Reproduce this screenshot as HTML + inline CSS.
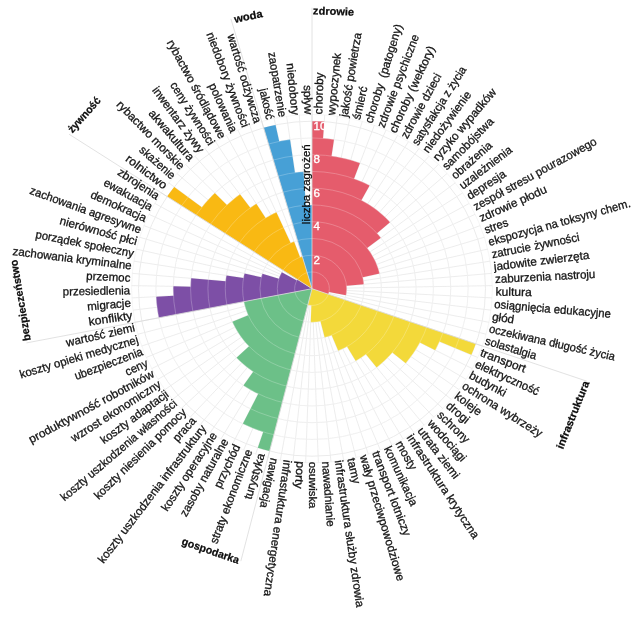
<!DOCTYPE html>
<html lang="pl"><head><meta charset="utf-8"><title>wykres</title>
<style>
html,body{margin:0;padding:0;background:#fff;}
body{width:640px;height:618px;position:relative;overflow:hidden;font-family:"Liberation Sans",sans-serif;}
</style></head><body>
<svg width="640" height="618" viewBox="0 0 640 618" style="position:absolute;left:0;top:0;font-family:'Liberation Sans',sans-serif;filter:blur(0.4px)">
<rect x="0" y="0" width="640" height="618" fill="#ffffff"/>
<g stroke="#eaeaea" opacity="0.95"><ellipse cx="312" cy="288.7" rx="17.35" ry="16.75" fill="none" stroke-width="0.9"/>
<ellipse cx="312" cy="288.7" rx="34.69" ry="33.5" fill="none" stroke-width="1.0"/>
<ellipse cx="312" cy="288.7" rx="52.04" ry="50.25" fill="none" stroke-width="0.9"/>
<ellipse cx="312" cy="288.7" rx="69.39" ry="67" fill="none" stroke-width="1.0"/>
<ellipse cx="312" cy="288.7" rx="86.73" ry="83.75" fill="none" stroke-width="0.9"/>
<ellipse cx="312" cy="288.7" rx="104.08" ry="100.5" fill="none" stroke-width="1.0"/>
<ellipse cx="312" cy="288.7" rx="121.42" ry="117.25" fill="none" stroke-width="0.9"/>
<ellipse cx="312" cy="288.7" rx="138.77" ry="134" fill="none" stroke-width="1.0"/>
<ellipse cx="312" cy="288.7" rx="156.12" ry="150.75" fill="none" stroke-width="0.9"/>
<ellipse cx="312" cy="288.7" rx="173.46" ry="167.5" fill="none" stroke-width="1.0"/>
<ellipse cx="312" cy="288.7" rx="180.4" ry="174.2" fill="none" stroke-width="0.5"/>
<line x1="312" y1="288.7" x2="312" y2="114.5" stroke-width="0.9"/>
<line x1="312" y1="288.7" x2="324.73" y2="114.93" stroke-width="0.9"/>
<line x1="312" y1="288.7" x2="337.39" y2="116.23" stroke-width="0.9"/>
<line x1="312" y1="288.7" x2="349.92" y2="118.39" stroke-width="0.9"/>
<line x1="312" y1="288.7" x2="362.27" y2="121.4" stroke-width="0.9"/>
<line x1="312" y1="288.7" x2="374.37" y2="125.24" stroke-width="0.9"/>
<line x1="312" y1="288.7" x2="386.15" y2="129.9" stroke-width="0.9"/>
<line x1="312" y1="288.7" x2="397.57" y2="135.34" stroke-width="0.9"/>
<line x1="312" y1="288.7" x2="408.56" y2="141.55" stroke-width="0.9"/>
<line x1="312" y1="288.7" x2="419.06" y2="148.5" stroke-width="0.9"/>
<line x1="312" y1="288.7" x2="429.04" y2="156.14" stroke-width="0.9"/>
<line x1="312" y1="288.7" x2="438.43" y2="164.44" stroke-width="0.9"/>
<line x1="312" y1="288.7" x2="447.19" y2="173.36" stroke-width="0.9"/>
<line x1="312" y1="288.7" x2="455.28" y2="182.86" stroke-width="0.9"/>
<line x1="312" y1="288.7" x2="462.66" y2="192.88" stroke-width="0.9"/>
<line x1="312" y1="288.7" x2="469.28" y2="203.38" stroke-width="0.9"/>
<line x1="312" y1="288.7" x2="475.12" y2="214.31" stroke-width="0.9"/>
<line x1="312" y1="288.7" x2="480.15" y2="225.6" stroke-width="0.9"/>
<line x1="312" y1="288.7" x2="484.34" y2="237.21" stroke-width="0.9"/>
<line x1="312" y1="288.7" x2="487.67" y2="249.08" stroke-width="0.9"/>
<line x1="312" y1="288.7" x2="490.13" y2="261.15" stroke-width="0.9"/>
<line x1="312" y1="288.7" x2="491.7" y2="273.35" stroke-width="0.9"/>
<line x1="312" y1="288.7" x2="492.37" y2="285.63" stroke-width="0.9"/>
<line x1="312" y1="288.7" x2="492.15" y2="297.92" stroke-width="0.9"/>
<line x1="312" y1="288.7" x2="491.03" y2="310.17" stroke-width="0.9"/>
<line x1="312" y1="288.7" x2="489.01" y2="322.31" stroke-width="0.9"/>
<line x1="312" y1="288.7" x2="486.12" y2="334.28" stroke-width="0.9"/>
<line x1="312" y1="288.7" x2="482.35" y2="346.03" stroke-width="0.9"/>
<line x1="312" y1="288.7" x2="477.74" y2="357.49" stroke-width="0.9"/>
<line x1="312" y1="288.7" x2="472.3" y2="368.61" stroke-width="0.9"/>
<line x1="312" y1="288.7" x2="466.07" y2="379.33" stroke-width="0.9"/>
<line x1="312" y1="288.7" x2="459.06" y2="389.59" stroke-width="0.9"/>
<line x1="312" y1="288.7" x2="451.33" y2="399.36" stroke-width="0.9"/>
<line x1="312" y1="288.7" x2="442.89" y2="408.57" stroke-width="0.9"/>
<line x1="312" y1="288.7" x2="433.81" y2="417.19" stroke-width="0.9"/>
<line x1="312" y1="288.7" x2="424.12" y2="425.17" stroke-width="0.9"/>
<line x1="312" y1="288.7" x2="413.87" y2="432.47" stroke-width="0.9"/>
<line x1="312" y1="288.7" x2="403.12" y2="439.05" stroke-width="0.9"/>
<line x1="312" y1="288.7" x2="391.91" y2="444.88" stroke-width="0.9"/>
<line x1="312" y1="288.7" x2="380.3" y2="449.93" stroke-width="0.9"/>
<line x1="312" y1="288.7" x2="368.35" y2="454.18" stroke-width="0.9"/>
<line x1="312" y1="288.7" x2="356.12" y2="457.61" stroke-width="0.9"/>
<line x1="312" y1="288.7" x2="343.67" y2="460.19" stroke-width="0.9"/>
<line x1="312" y1="288.7" x2="331.07" y2="461.92" stroke-width="0.9"/>
<line x1="312" y1="288.7" x2="318.37" y2="462.79" stroke-width="0.9"/>
<line x1="312" y1="288.7" x2="305.63" y2="462.79" stroke-width="0.9"/>
<line x1="312" y1="288.7" x2="292.93" y2="461.92" stroke-width="0.9"/>
<line x1="312" y1="288.7" x2="280.33" y2="460.19" stroke-width="0.9"/>
<line x1="312" y1="288.7" x2="267.88" y2="457.61" stroke-width="0.9"/>
<line x1="312" y1="288.7" x2="255.65" y2="454.18" stroke-width="0.9"/>
<line x1="312" y1="288.7" x2="243.7" y2="449.93" stroke-width="0.9"/>
<line x1="312" y1="288.7" x2="232.09" y2="444.88" stroke-width="0.9"/>
<line x1="312" y1="288.7" x2="220.88" y2="439.05" stroke-width="0.9"/>
<line x1="312" y1="288.7" x2="210.13" y2="432.47" stroke-width="0.9"/>
<line x1="312" y1="288.7" x2="199.88" y2="425.17" stroke-width="0.9"/>
<line x1="312" y1="288.7" x2="190.19" y2="417.19" stroke-width="0.9"/>
<line x1="312" y1="288.7" x2="181.11" y2="408.57" stroke-width="0.9"/>
<line x1="312" y1="288.7" x2="172.67" y2="399.36" stroke-width="0.9"/>
<line x1="312" y1="288.7" x2="164.94" y2="389.59" stroke-width="0.9"/>
<line x1="312" y1="288.7" x2="157.93" y2="379.33" stroke-width="0.9"/>
<line x1="312" y1="288.7" x2="151.7" y2="368.61" stroke-width="0.9"/>
<line x1="312" y1="288.7" x2="146.26" y2="357.49" stroke-width="0.9"/>
<line x1="312" y1="288.7" x2="141.65" y2="346.03" stroke-width="0.9"/>
<line x1="312" y1="288.7" x2="137.88" y2="334.28" stroke-width="0.9"/>
<line x1="312" y1="288.7" x2="134.99" y2="322.31" stroke-width="0.9"/>
<line x1="312" y1="288.7" x2="132.97" y2="310.17" stroke-width="0.9"/>
<line x1="312" y1="288.7" x2="131.85" y2="297.92" stroke-width="0.9"/>
<line x1="312" y1="288.7" x2="131.63" y2="285.63" stroke-width="0.9"/>
<line x1="312" y1="288.7" x2="132.3" y2="273.35" stroke-width="0.9"/>
<line x1="312" y1="288.7" x2="133.87" y2="261.15" stroke-width="0.9"/>
<line x1="312" y1="288.7" x2="136.33" y2="249.08" stroke-width="0.9"/>
<line x1="312" y1="288.7" x2="139.66" y2="237.21" stroke-width="0.9"/>
<line x1="312" y1="288.7" x2="143.85" y2="225.6" stroke-width="0.9"/>
<line x1="312" y1="288.7" x2="148.88" y2="214.31" stroke-width="0.9"/>
<line x1="312" y1="288.7" x2="154.72" y2="203.38" stroke-width="0.9"/>
<line x1="312" y1="288.7" x2="161.34" y2="192.88" stroke-width="0.9"/>
<line x1="312" y1="288.7" x2="168.72" y2="182.86" stroke-width="0.9"/>
<line x1="312" y1="288.7" x2="176.81" y2="173.36" stroke-width="0.9"/>
<line x1="312" y1="288.7" x2="185.57" y2="164.44" stroke-width="0.9"/>
<line x1="312" y1="288.7" x2="194.96" y2="156.14" stroke-width="0.9"/>
<line x1="312" y1="288.7" x2="204.94" y2="148.5" stroke-width="0.9"/>
<line x1="312" y1="288.7" x2="215.44" y2="141.55" stroke-width="0.9"/>
<line x1="312" y1="288.7" x2="226.43" y2="135.34" stroke-width="0.9"/>
<line x1="312" y1="288.7" x2="237.85" y2="129.9" stroke-width="0.9"/>
<line x1="312" y1="288.7" x2="249.63" y2="125.24" stroke-width="0.9"/>
<line x1="312" y1="288.7" x2="261.73" y2="121.4" stroke-width="0.9"/>
<line x1="312" y1="288.7" x2="274.08" y2="118.39" stroke-width="0.9"/>
<line x1="312" y1="288.7" x2="286.61" y2="116.23" stroke-width="0.9"/>
<line x1="312" y1="288.7" x2="299.27" y2="114.93" stroke-width="0.9"/></g>
<g><path d="M312,288.7 L312,121.2 A173.46,167.5 0 0 1 324.24,121.62 L323.01,138.33 A156.12,150.75 0 0 1 333.97,139.45 L331.53,156.03 A138.77,134 0 0 1 341.17,157.69 L341.17,157.69 A138.77,134 0 0 1 350.67,160.01 L350.67,160.01 A138.77,134 0 0 1 359.97,162.96 L353.98,178.68 A121.42,117.25 0 0 1 361.91,181.81 L361.91,181.81 A121.42,117.25 0 0 1 369.59,185.48 L361.37,200.22 A104.08,100.5 0 0 1 367.71,203.81 L367.71,203.81 A104.08,100.5 0 0 1 373.77,207.81 L373.77,207.81 A104.08,100.5 0 0 1 379.52,212.22 L379.52,212.22 A104.08,100.5 0 0 1 384.94,217.01 L384.94,217.01 A104.08,100.5 0 0 1 390,222.16 L377,233.25 A86.73,83.75 0 0 1 380.89,237.81 L367.11,247.99 A69.39,67 0 0 1 369.95,251.85 L369.95,251.85 A69.39,67 0 0 1 372.49,255.89 L372.49,255.89 A69.39,67 0 0 1 374.74,260.09 L374.74,260.09 A69.39,67 0 0 1 376.67,264.43 L376.67,264.43 A69.39,67 0 0 1 378.29,268.9 L378.29,268.9 A69.39,67 0 0 1 379.57,273.46 L362.68,277.27 A52.04,50.25 0 0 1 363.38,280.75 L363.38,280.75 A52.04,50.25 0 0 1 363.84,284.27 L346.56,285.75 A34.69,33.5 0 0 1 346.69,288.11 L346.69,288.11 A34.69,33.5 0 0 1 346.64,290.47 L346.64,290.47 A34.69,33.5 0 0 1 346.43,292.83 L346.43,292.83 A34.69,33.5 0 0 1 346.04,295.16 L329.02,291.93 A17.35,16.75 0 0 1 328.74,293.08 L328.74,293.08 A17.35,16.75 0 0 1 328.38,294.21 Z" fill="#e55c6c"/>
<path d="M312,288.7 L475.8,343.82 A173.46,167.5 0 0 1 471.37,354.84 L439.49,341.61 A138.77,134 0 0 1 435.31,350.17 L419.9,342.48 A121.42,117.25 0 0 1 415.7,349.7 L415.7,349.7 A121.42,117.25 0 0 1 410.98,356.61 L410.98,356.61 A121.42,117.25 0 0 1 405.78,363.18 L392.38,352.54 A104.08,100.5 0 0 1 387.52,357.86 L387.52,357.86 A104.08,100.5 0 0 1 382.28,362.83 L382.28,362.83 A104.08,100.5 0 0 1 376.69,367.43 L365.9,354.31 A86.73,83.75 0 0 1 360.98,357.82 L360.98,357.82 A86.73,83.75 0 0 1 355.81,360.98 L347.05,346.53 A69.39,67 0 0 1 342.73,348.77 L342.73,348.77 A69.39,67 0 0 1 338.27,350.71 L331.7,335.21 A52.04,50.25 0 0 1 328.26,336.44 L328.26,336.44 A52.04,50.25 0 0 1 324.73,337.42 L320.49,321.18 A34.69,33.5 0 0 1 318.09,321.68 L318.09,321.68 A34.69,33.5 0 0 1 315.67,322.01 L315.67,322.01 A34.69,33.5 0 0 1 313.22,322.18 L313.22,322.18 A34.69,33.5 0 0 1 310.78,322.18 L311.39,305.44 A17.35,16.75 0 0 1 310.17,305.36 L310.17,305.36 A17.35,16.75 0 0 1 308.95,305.19 L308.95,305.19 A17.35,16.75 0 0 1 307.76,304.94 Z" fill="#f3d93a"/>
<path d="M312,288.7 L269.57,451.11 A173.46,167.5 0 0 1 257.82,447.82 L263.23,431.91 A156.12,150.75 0 0 1 252.89,428.23 L252.89,428.23 A156.12,150.75 0 0 1 242.85,423.85 L258.22,393.82 A121.42,117.25 0 0 1 250.67,389.89 L250.67,389.89 A121.42,117.25 0 0 1 243.43,385.47 L253.23,371.64 A104.08,100.5 0 0 1 247.31,367.43 L247.31,367.43 A104.08,100.5 0 0 1 241.72,362.83 L241.72,362.83 A104.08,100.5 0 0 1 236.48,357.86 L249.07,346.33 A86.73,83.75 0 0 1 245.02,341.9 L245.02,341.9 A86.73,83.75 0 0 1 241.3,337.21 L241.3,337.21 A86.73,83.75 0 0 1 237.93,332.27 L237.93,332.27 A86.73,83.75 0 0 1 234.93,327.12 L234.93,327.12 A86.73,83.75 0 0 1 232.32,321.77 L248.25,315.16 A69.39,67 0 0 1 246.48,310.75 L246.48,310.75 A69.39,67 0 0 1 245.03,306.23 L245.03,306.23 A69.39,67 0 0 1 243.92,301.63 Z" fill="#6cc088"/>
<path d="M312,288.7 L158.82,317.78 A156.12,150.75 0 0 1 157.07,307.28 L157.07,307.28 A156.12,150.75 0 0 1 156.1,296.68 L173.42,295.79 A138.77,134 0 0 1 173.25,286.34 L190.59,286.63 A121.42,117.25 0 0 1 191.05,278.37 L225.61,281.32 A86.73,83.75 0 0 1 226.36,275.45 L243.49,278.1 A69.39,67 0 0 1 244.43,273.46 L261.32,277.27 A52.04,50.25 0 0 1 262.29,273.85 L278.86,278.8 A34.69,33.5 0 0 1 279.66,276.57 L279.66,276.57 A34.69,33.5 0 0 1 280.63,274.39 L280.63,274.39 A34.69,33.5 0 0 1 281.75,272.29 L296.88,280.5 A17.35,16.75 0 0 1 297.51,279.49 Z" fill="#7d4fa6"/>
<path d="M312,288.7 L167.14,196.57 A173.46,167.5 0 0 1 174.23,186.93 L201.78,207.28 A138.77,134 0 0 1 208,199.98 L208,199.98 A138.77,134 0 0 1 214.74,193.12 L226.9,205.06 A121.42,117.25 0 0 1 233.22,199.48 L233.22,199.48 A121.42,117.25 0 0 1 239.94,194.33 L250.23,207.81 A104.08,100.5 0 0 1 256.29,203.81 L265.58,217.96 A86.73,83.75 0 0 1 270.86,214.97 L270.86,214.97 A86.73,83.75 0 0 1 276.35,212.35 L290.61,242.89 A52.04,50.25 0 0 1 294.01,241.55 L300.01,257.27 A34.69,33.5 0 0 1 302.33,256.53 Z" fill="#f9b913"/>
<path d="M312,288.7 L263.66,127.83 A173.46,167.5 0 0 1 275.54,124.94 L279.18,141.32 A156.12,150.75 0 0 1 290.03,139.45 L294.91,172.62 A121.42,117.25 0 0 1 303.43,171.74 L305.88,205.16 A86.73,83.75 0 0 1 312,204.95 Z" fill="#47a0d6"/></g>
<g fill="none" stroke="#ffffff" stroke-width="0.7" opacity="0.33"><ellipse cx="312" cy="288.7" rx="17.35" ry="16.75"/>
<ellipse cx="312" cy="288.7" rx="34.69" ry="33.5"/>
<ellipse cx="312" cy="288.7" rx="52.04" ry="50.25"/>
<ellipse cx="312" cy="288.7" rx="69.39" ry="67"/>
<ellipse cx="312" cy="288.7" rx="86.73" ry="83.75"/>
<ellipse cx="312" cy="288.7" rx="104.08" ry="100.5"/>
<ellipse cx="312" cy="288.7" rx="121.42" ry="117.25"/>
<ellipse cx="312" cy="288.7" rx="138.77" ry="134"/>
<ellipse cx="312" cy="288.7" rx="156.12" ry="150.75"/></g>
<g stroke="#dadada" stroke-width="0.8"><line x1="312" y1="288.7" x2="312" y2="7.7"/>
<line x1="312" y1="288.7" x2="586.79" y2="381.17"/>
<line x1="312" y1="288.7" x2="240.83" y2="561.17"/>
<line x1="312" y1="288.7" x2="26.46" y2="342.91"/>
<line x1="312" y1="288.7" x2="68.97" y2="134.13"/>
<line x1="312" y1="288.7" x2="230.91" y2="18.83"/></g>
<g font-size="11.7" fill="#151515" stroke="#151515" stroke-width="0.3"><text transform="translate(318.4,114.31) rotate(-88.12)" text-anchor="start" dy="0.32em" textLength="41.78" lengthAdjust="spacingAndGlyphs" xml:space="preserve">choroby</text>
<text transform="translate(331.15,115.18) rotate(-84.35)" text-anchor="start" dy="0.32em" textLength="62.36" lengthAdjust="spacingAndGlyphs" xml:space="preserve">wypoczynek</text>
<text transform="translate(343.81,116.91) rotate(-80.58)" text-anchor="start" dy="0.32em" textLength="85.24" lengthAdjust="spacingAndGlyphs" xml:space="preserve">jakość powietrza</text>
<text transform="translate(356.32,119.5) rotate(-76.8)" text-anchor="start" dy="0.32em" textLength="33.75" lengthAdjust="spacingAndGlyphs" xml:space="preserve">śmierć</text>
<text transform="translate(368.59,122.93) rotate(-73)" text-anchor="start" dy="0.32em" textLength="102.91" lengthAdjust="spacingAndGlyphs" xml:space="preserve">choroby  (patogeny)</text>
<text transform="translate(380.67,127.13) rotate(-69.17)" text-anchor="start" dy="0.32em" textLength="98.53" lengthAdjust="spacingAndGlyphs" xml:space="preserve">zdrowie psychiczne</text>
<text transform="translate(392.48,132.08) rotate(-65.32)" text-anchor="start" dy="0.32em" textLength="94.04" lengthAdjust="spacingAndGlyphs" xml:space="preserve">choroby (wektory)</text>
<text transform="translate(403.88,137.82) rotate(-61.44)" text-anchor="start" dy="0.32em" textLength="72.33" lengthAdjust="spacingAndGlyphs" xml:space="preserve">zdrowie dzieci</text>
<text transform="translate(414.82,144.3) rotate(-57.53)" text-anchor="start" dy="0.32em" textLength="91.05" lengthAdjust="spacingAndGlyphs" xml:space="preserve">satysfakcja z życia</text>
<text transform="translate(425.25,151.51) rotate(-53.58)" text-anchor="start" dy="0.32em" textLength="73.37" lengthAdjust="spacingAndGlyphs" xml:space="preserve">niedożywienie</text>
<text transform="translate(435.1,159.39) rotate(-49.59)" text-anchor="start" dy="0.32em" textLength="91.01" lengthAdjust="spacingAndGlyphs" xml:space="preserve">ryzyko wypadków</text>
<text transform="translate(444.34,167.91) rotate(-45.56)" text-anchor="start" dy="0.32em" textLength="67.86" lengthAdjust="spacingAndGlyphs" xml:space="preserve">samobójstwa</text>
<text transform="translate(452.92,177.03) rotate(-41.49)" text-anchor="start" dy="0.32em" textLength="50.28" lengthAdjust="spacingAndGlyphs" xml:space="preserve">obrażenia</text>
<text transform="translate(460.79,186.71) rotate(-37.38)" text-anchor="start" dy="0.32em" textLength="62.83" lengthAdjust="spacingAndGlyphs" xml:space="preserve">uzależnienia</text>
<text transform="translate(467.91,196.89) rotate(-33.23)" text-anchor="start" dy="0.32em" textLength="43.98" lengthAdjust="spacingAndGlyphs" xml:space="preserve">depresja</text>
<text transform="translate(474.26,207.52) rotate(-28.81)" text-anchor="start" dy="0.32em" textLength="138.73" lengthAdjust="spacingAndGlyphs" xml:space="preserve">zespół stresu pourazowego</text>
<text transform="translate(479.84,218.67) rotate(-24.29)" text-anchor="start" dy="0.32em" textLength="72.85" lengthAdjust="spacingAndGlyphs" xml:space="preserve">zdrowie płodu</text>
<text transform="translate(484.66,230.34) rotate(-19.84)" text-anchor="start" dy="0.32em" textLength="24.65" lengthAdjust="spacingAndGlyphs" xml:space="preserve">stres</text>
<text transform="translate(488.61,242.29) rotate(-15.46)" text-anchor="start" dy="0.32em" textLength="146.87" lengthAdjust="spacingAndGlyphs" xml:space="preserve">ekspozycja na toksyny chem.</text>
<text transform="translate(491.68,254.47) rotate(-11.18)" text-anchor="start" dy="0.32em" textLength="89.32" lengthAdjust="spacingAndGlyphs" xml:space="preserve">zatrucie żywności</text>
<text transform="translate(493.85,266.82) rotate(-7.01)" text-anchor="start" dy="0.32em" textLength="96.21" lengthAdjust="spacingAndGlyphs" xml:space="preserve">jadowite zwierzęta</text>
<text transform="translate(495.12,279.28) rotate(-2.96)" text-anchor="start" dy="0.32em" textLength="100.34" lengthAdjust="spacingAndGlyphs" xml:space="preserve">zaburzenia nastroju</text>
<text transform="translate(495.47,291.78) rotate(0.98)" text-anchor="start" dy="0.32em" textLength="36.36" lengthAdjust="spacingAndGlyphs" xml:space="preserve">kultura</text>
<text transform="translate(494.29,304.16) rotate(4.88)" text-anchor="start" dy="0.32em" textLength="117.04" lengthAdjust="spacingAndGlyphs" xml:space="preserve">osiągnięcia edukacyjne</text>
<text transform="translate(492.21,316.47) rotate(8.79)" text-anchor="start" dy="0.32em" textLength="22.11" lengthAdjust="spacingAndGlyphs" xml:space="preserve">głód</text>
<text transform="translate(489.22,328.64) rotate(12.71)" text-anchor="start" dy="0.32em" textLength="128.73" lengthAdjust="spacingAndGlyphs" xml:space="preserve">oczekiwana długość życia</text>
<text transform="translate(485.34,340.62) rotate(16.63)" text-anchor="start" dy="0.32em" textLength="53.2" lengthAdjust="spacingAndGlyphs" xml:space="preserve">solastalgia</text>
<text transform="translate(480.77,352.28) rotate(20.57)" text-anchor="start" dy="0.32em" textLength="47.88" lengthAdjust="spacingAndGlyphs" xml:space="preserve">transport</text>
<text transform="translate(475.76,363.52) rotate(24.52)" text-anchor="start" dy="0.32em" textLength="69.04" lengthAdjust="spacingAndGlyphs" xml:space="preserve">elektryczność</text>
<text transform="translate(469.92,374.38) rotate(28.48)" text-anchor="start" dy="0.32em" textLength="40.62" lengthAdjust="spacingAndGlyphs" xml:space="preserve">budynki</text>
<text transform="translate(463.28,384.82) rotate(32.46)" text-anchor="start" dy="0.32em" textLength="92.42" lengthAdjust="spacingAndGlyphs" xml:space="preserve">ochrona wybrzeży</text>
<text transform="translate(455.88,394.78) rotate(36.45)" text-anchor="start" dy="0.32em" textLength="30.7" lengthAdjust="spacingAndGlyphs" xml:space="preserve">koleje</text>
<text transform="translate(447.8,404.19) rotate(40.47)" text-anchor="start" dy="0.32em" textLength="26.37" lengthAdjust="spacingAndGlyphs" xml:space="preserve">drogi</text>
<text transform="translate(439.13,412.99) rotate(44.5)" text-anchor="start" dy="0.32em" textLength="40.07" lengthAdjust="spacingAndGlyphs" xml:space="preserve">schrony</text>
<text transform="translate(429.82,421.17) rotate(48.56)" text-anchor="start" dy="0.32em" textLength="51.77" lengthAdjust="spacingAndGlyphs" xml:space="preserve">wodociągi</text>
<text transform="translate(419.92,428.69) rotate(52.63)" text-anchor="start" dy="0.32em" textLength="61.22" lengthAdjust="spacingAndGlyphs" xml:space="preserve">utrata ziemi</text>
<text transform="translate(409.47,435.51) rotate(56.73)" text-anchor="start" dy="0.32em" textLength="122.02" lengthAdjust="spacingAndGlyphs" xml:space="preserve">infrastruktura krytyczna</text>
<text transform="translate(398.54,441.6) rotate(60.84)" text-anchor="start" dy="0.32em" textLength="31.44" lengthAdjust="spacingAndGlyphs" xml:space="preserve">mosty</text>
<text transform="translate(387.17,446.92) rotate(64.97)" text-anchor="start" dy="0.32em" textLength="64.44" lengthAdjust="spacingAndGlyphs" xml:space="preserve">komunikacja</text>
<text transform="translate(375.42,451.45) rotate(69.12)" text-anchor="start" dy="0.32em" textLength="89.82" lengthAdjust="spacingAndGlyphs" xml:space="preserve">transport lotniczy</text>
<text transform="translate(363.35,455.21) rotate(73.28)" text-anchor="start" dy="0.32em" textLength="130.88" lengthAdjust="spacingAndGlyphs" xml:space="preserve">wały przeciwpowodziowe</text>
<text transform="translate(351.03,458.15) rotate(77.45)" text-anchor="start" dy="0.32em" textLength="25.93" lengthAdjust="spacingAndGlyphs" xml:space="preserve">tamy</text>
<text transform="translate(338.51,460.23) rotate(81.63)" text-anchor="start" dy="0.32em" textLength="148.45" lengthAdjust="spacingAndGlyphs" xml:space="preserve">infrastruktura służby zdrowia</text>
<text transform="translate(325.86,461.46) rotate(85.81)" text-anchor="start" dy="0.32em" textLength="65.36" lengthAdjust="spacingAndGlyphs" xml:space="preserve">nawadnianie</text>
<text transform="translate(313.15,461.82) rotate(90)" text-anchor="start" dy="0.32em" textLength="46.59" lengthAdjust="spacingAndGlyphs" xml:space="preserve">osuwiska</text>
<text transform="translate(300.44,461.3) rotate(94.19)" text-anchor="start" dy="0.32em" textLength="27.47" lengthAdjust="spacingAndGlyphs" xml:space="preserve">porty</text>
<text transform="translate(287.53,460.11) rotate(98.37)" text-anchor="start" dy="0.32em" textLength="137.5" lengthAdjust="spacingAndGlyphs" xml:space="preserve">infrastuktura energetyczna</text>
<text transform="translate(274.5,458.23) rotate(102.55)" text-anchor="start" dy="0.32em" textLength="50.69" lengthAdjust="spacingAndGlyphs" xml:space="preserve">nawigacja</text>
<text transform="translate(261.77,453.79) rotate(286.72)" text-anchor="end" dy="0.28em" textLength="47.38" lengthAdjust="spacingAndGlyphs" xml:space="preserve">turystyka</text>
<text transform="translate(249.46,449.94) rotate(290.88)" text-anchor="end" dy="0.28em" textLength="100.01" lengthAdjust="spacingAndGlyphs" xml:space="preserve">straty ekonomiczne</text>
<text transform="translate(237.48,445.28) rotate(295.03)" text-anchor="end" dy="0.28em" textLength="46.71" lengthAdjust="spacingAndGlyphs" xml:space="preserve">przychód</text>
<text transform="translate(225.86,439.82) rotate(299.16)" text-anchor="end" dy="0.28em" textLength="87.1" lengthAdjust="spacingAndGlyphs" xml:space="preserve">zasoby naturalne</text>
<text transform="translate(214.75,433.63) rotate(303.27)" text-anchor="end" dy="0.28em" textLength="91.59" lengthAdjust="spacingAndGlyphs" xml:space="preserve">koszty operacyjne</text>
<text transform="translate(204.17,426.73) rotate(307.37)" text-anchor="end" dy="0.28em" textLength="170.13" lengthAdjust="spacingAndGlyphs" xml:space="preserve">koszty uszkodzenia infrastruktury</text>
<text transform="translate(194.13,419.13) rotate(311.44)" text-anchor="end" dy="0.28em" textLength="28.3" lengthAdjust="spacingAndGlyphs" xml:space="preserve">praca</text>
<text transform="translate(184.68,410.87) rotate(315.5)" text-anchor="end" dy="0.28em" textLength="123.81" lengthAdjust="spacingAndGlyphs" xml:space="preserve">koszty niesienia pomocy</text>
<text transform="translate(175.82,402.33) rotate(319.53)" text-anchor="end" dy="0.28em" textLength="148.98" lengthAdjust="spacingAndGlyphs" xml:space="preserve">koszty uszkodzenia własności</text>
<text transform="translate(167.63,393.26) rotate(323.55)" text-anchor="end" dy="0.28em" textLength="81.51" lengthAdjust="spacingAndGlyphs" xml:space="preserve">koszty adaptacji</text>
<text transform="translate(160.17,383.66) rotate(327.54)" text-anchor="end" dy="0.28em" textLength="104.09" lengthAdjust="spacingAndGlyphs" xml:space="preserve">wzrost ekonomiczny</text>
<text transform="translate(153.47,373.59) rotate(331.52)" text-anchor="end" dy="0.28em" textLength="140.75" lengthAdjust="spacingAndGlyphs" xml:space="preserve">produktywność robotników</text>
<text transform="translate(147.57,363.09) rotate(335.48)" text-anchor="end" dy="0.28em" textLength="23.83" lengthAdjust="spacingAndGlyphs" xml:space="preserve">ceny</text>
<text transform="translate(142.47,351.71) rotate(339.43)" text-anchor="end" dy="0.28em" textLength="72.09" lengthAdjust="spacingAndGlyphs" xml:space="preserve">ubezpieczenia</text>
<text transform="translate(138.22,339.97) rotate(343.37)" text-anchor="end" dy="0.28em" textLength="123.32" lengthAdjust="spacingAndGlyphs" xml:space="preserve">koszty opieki medycznej</text>
<text transform="translate(134.84,327.98) rotate(347.29)" text-anchor="end" dy="0.28em" textLength="70.22" lengthAdjust="spacingAndGlyphs" xml:space="preserve">wartość ziemi</text>
<text transform="translate(132.36,315.79) rotate(351.21)" text-anchor="end" dy="0.28em" textLength="44.09" lengthAdjust="spacingAndGlyphs" xml:space="preserve">konflikty</text>
<text transform="translate(130.77,303.47) rotate(355.12)" text-anchor="end" dy="0.28em" textLength="43.76" lengthAdjust="spacingAndGlyphs" xml:space="preserve">migracje</text>
<text transform="translate(130.1,291.06) rotate(359.02)" text-anchor="end" dy="0.28em" textLength="67.39" lengthAdjust="spacingAndGlyphs" xml:space="preserve">przesiedlenia</text>
<text transform="translate(130.34,278.64) rotate(2.96)" text-anchor="end" dy="0.28em" textLength="44.13" lengthAdjust="spacingAndGlyphs" xml:space="preserve">przemoc</text>
<text transform="translate(131.49,266.27) rotate(7.01)" text-anchor="end" dy="0.28em" textLength="119.76" lengthAdjust="spacingAndGlyphs" xml:space="preserve">zachowania kryminalne</text>
<text transform="translate(133.61,254.06) rotate(11.18)" text-anchor="end" dy="0.28em" textLength="99.84" lengthAdjust="spacingAndGlyphs" xml:space="preserve">porządek społeczny</text>
<text transform="translate(136.76,242.14) rotate(15.46)" text-anchor="end" dy="0.28em" textLength="79.71" lengthAdjust="spacingAndGlyphs" xml:space="preserve">nierówność płci</text>
<text transform="translate(140.79,230.45) rotate(19.84)" text-anchor="end" dy="0.28em" textLength="117.73" lengthAdjust="spacingAndGlyphs" xml:space="preserve">zachowania agresywne</text>
<text transform="translate(145.69,219.04) rotate(24.29)" text-anchor="end" dy="0.28em" textLength="59.9" lengthAdjust="spacingAndGlyphs" xml:space="preserve">demokracja</text>
<text transform="translate(151.43,207.98) rotate(28.81)" text-anchor="end" dy="0.28em" textLength="53.86" lengthAdjust="spacingAndGlyphs" xml:space="preserve">ewakuacja</text>
<text transform="translate(157.99,197.31) rotate(33.23)" text-anchor="end" dy="0.28em" textLength="47.26" lengthAdjust="spacingAndGlyphs" xml:space="preserve">zbrojenia</text>
<text transform="translate(165.32,187.1) rotate(37.38)" text-anchor="end" dy="0.28em" textLength="48.43" lengthAdjust="spacingAndGlyphs" xml:space="preserve">rolnictwo</text>
<text transform="translate(173.4,177.4) rotate(41.49)" text-anchor="end" dy="0.28em" textLength="43.55" lengthAdjust="spacingAndGlyphs" xml:space="preserve">skażenie</text>
<text transform="translate(182.18,168.24) rotate(45.56)" text-anchor="end" dy="0.28em" textLength="91.36" lengthAdjust="spacingAndGlyphs" xml:space="preserve">rybactwo morskie</text>
<text transform="translate(191.42,159.66) rotate(49.59)" text-anchor="end" dy="0.28em" textLength="63.06" lengthAdjust="spacingAndGlyphs" xml:space="preserve">akwakultura</text>
<text transform="translate(201.15,151.71) rotate(53.58)" text-anchor="end" dy="0.28em" textLength="78.96" lengthAdjust="spacingAndGlyphs" xml:space="preserve">inwentarz żywy</text>
<text transform="translate(211.46,144.44) rotate(57.53)" text-anchor="end" dy="0.28em" textLength="72.58" lengthAdjust="spacingAndGlyphs" xml:space="preserve">ceny żywności</text>
<text transform="translate(222.28,137.89) rotate(61.44)" text-anchor="end" dy="0.28em" textLength="110.4" lengthAdjust="spacingAndGlyphs" xml:space="preserve">rybactwo śródlądowe</text>
<text transform="translate(233.56,132.09) rotate(65.32)" text-anchor="end" dy="0.28em" textLength="53.15" lengthAdjust="spacingAndGlyphs" xml:space="preserve">polowania</text>
<text transform="translate(245.24,127.07) rotate(69.17)" text-anchor="end" dy="0.28em" textLength="100.93" lengthAdjust="spacingAndGlyphs" xml:space="preserve">niedobory żywności</text>
<text transform="translate(257.28,122.85) rotate(73)" text-anchor="end" dy="0.28em" textLength="92.33" lengthAdjust="spacingAndGlyphs" xml:space="preserve">wartość odżywcza</text>
<text transform="translate(269.59,119.46) rotate(76.8)" text-anchor="end" dy="0.28em" textLength="31.55" lengthAdjust="spacingAndGlyphs" xml:space="preserve">jakość</text>
<text transform="translate(282.13,116.91) rotate(80.58)" text-anchor="end" dy="0.28em" textLength="65.69" lengthAdjust="spacingAndGlyphs" xml:space="preserve">zaopatrzenie</text>
<text transform="translate(294.95,115.18) rotate(84.35)" text-anchor="end" dy="0.28em" textLength="52.18" lengthAdjust="spacingAndGlyphs" xml:space="preserve">niedobory</text>
<text transform="translate(307.87,114.31) rotate(88.12)" text-anchor="end" dy="0.28em" textLength="29.15" lengthAdjust="spacingAndGlyphs" xml:space="preserve">spływ</text></g>
<g font-size="10.8" font-weight="bold" fill="#0c0c0c" stroke="#0c0c0c" stroke-width="0.25"><text transform="translate(312,10.4) rotate(2)" text-anchor="start" x="1" dy="0.35em" textLength="41.18" lengthAdjust="spacingAndGlyphs">zdrowie</text>
<text transform="translate(586.31,381.01) rotate(-68.16)" text-anchor="end" x="-0.5" dy="0.35em" textLength="71.91" lengthAdjust="spacingAndGlyphs">infrastruktura</text>
<text transform="translate(240.88,560.97) rotate(-341.01)" text-anchor="end" x="-2" dy="0.35em" textLength="60.09" lengthAdjust="spacingAndGlyphs">gospodarka</text>
<text transform="translate(27.28,342.76) rotate(-99.51)" text-anchor="start" x="2" dy="0.35em" textLength="81.93" lengthAdjust="spacingAndGlyphs">bezpieczeństwo</text>
<text transform="translate(67.68,133.31) rotate(-48.5)" text-anchor="start" x="3" dy="0.35em" textLength="43.5" lengthAdjust="spacingAndGlyphs">żywność</text>
<text transform="translate(231.2,19.79) rotate(-11.65)" text-anchor="start" x="3" dy="0.35em" textLength="28.69" lengthAdjust="spacingAndGlyphs">woda</text></g>
<g font-size="11.6" fill="#ffffff" stroke="#ffffff" stroke-width="0.35"><text x="313.5" y="263.6">2</text>
<text x="313.5" y="230.1">4</text>
<text x="313.5" y="196.6">6</text>
<text x="313.5" y="163.1">8</text>
<text x="313.5" y="129.6">10</text></g>
<text transform="translate(309.5,184.2) rotate(-90)" text-anchor="middle" font-size="11.5" fill="#0a0a0a" stroke="#0a0a0a" stroke-width="0.25">liczba zagrożeń</text>
</svg>
</body></html>
